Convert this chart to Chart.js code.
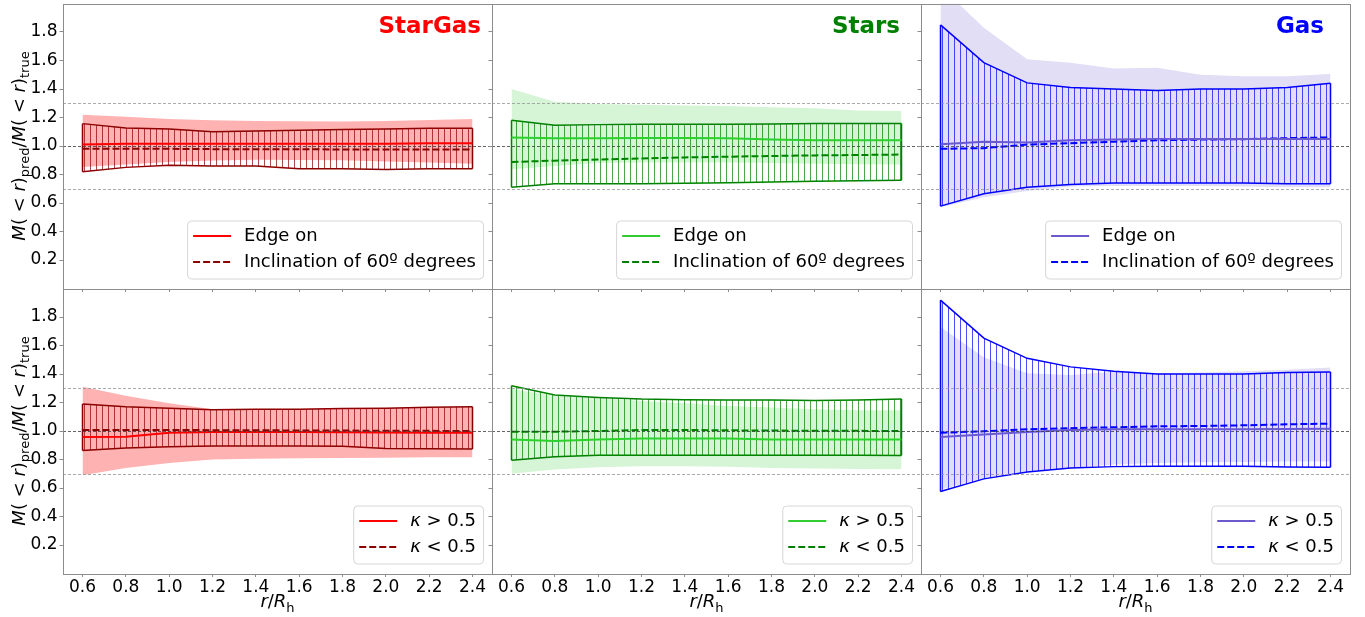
<!DOCTYPE html>
<html>
<head>
<meta charset="utf-8">
<script src="https://cdn.jsdelivr.net/npm/chart.js@4.4.1/dist/chart.umd.min.js"></script>
<style>
  html, body { margin: 0; padding: 0; background: #fff; }
  #wrap { position: relative; width: 1365px; height: 617px; overflow: hidden; }
  #wrap canvas { position: absolute; left: 0; top: 0; }
</style>
</head>
<body>
<div id="wrap"></div>
<script>
// r / R_h sample points and axis ticks
const radius = [0.6, 0.8, 1.0, 1.2, 1.4, 1.6, 1.8, 2.0, 2.2, 2.4];
const yTicks = [0.2, 0.4, 0.6, 0.8, 1.0, 1.2, 1.4, 1.6, 1.8];
const refLevels = [0.7, 1.0, 1.3];

// --- top row: edge on (solid + shade) vs inclination 60º (dashed + hatch)
const sgEdgeMed = [1.010, 1.015, 1.015, 1.015, 1.015, 1.015, 1.015, 1.015, 1.020, 1.020];
const sgEdgeLo  = [0.852, 0.870, 0.888, 0.898, 0.904, 0.902, 0.900, 0.892, 0.885, 0.876];
const sgEdgeHi  = [1.220, 1.205, 1.190, 1.180, 1.176, 1.173, 1.172, 1.175, 1.182, 1.190];
const sgIncMed  = [0.980, 0.980, 0.980, 0.978, 0.977, 0.977, 0.976, 0.976, 0.976, 0.975];
const sgIncLo   = [0.820, 0.850, 0.865, 0.860, 0.860, 0.840, 0.840, 0.835, 0.840, 0.840];
const sgIncHi   = [1.157, 1.127, 1.120, 1.100, 1.105, 1.110, 1.115, 1.120, 1.125, 1.125];

const stEdgeMed = [1.060, 1.055, 1.055, 1.057, 1.057, 1.055, 1.045, 1.040, 1.040, 1.040];
const stEdgeLo  = [0.836, 0.860, 0.880, 0.885, 0.885, 0.885, 0.880, 0.875, 0.872, 0.870];
const stEdgeHi  = [1.400, 1.310, 1.295, 1.290, 1.285, 1.280, 1.272, 1.265, 1.250, 1.245];
const stIncMed  = [0.888, 0.897, 0.905, 0.913, 0.920, 0.925, 0.930, 0.934, 0.937, 0.940];
const stIncLo   = [0.710, 0.735, 0.735, 0.735, 0.738, 0.742, 0.748, 0.752, 0.756, 0.760];
const stIncHi   = [1.180, 1.145, 1.150, 1.152, 1.152, 1.152, 1.155, 1.158, 1.158, 1.158];

const gaEdgeMed = [1.012, 1.030, 1.025, 1.040, 1.045, 1.050, 1.050, 1.050, 1.050, 1.050];
const gaEdgeLo  = [0.570, 0.640, 0.685, 0.715, 0.720, 0.720, 0.720, 0.715, 0.710, 0.710];
const gaEdgeHi  = [2.120, 1.830, 1.609, 1.585, 1.544, 1.550, 1.500, 1.490, 1.490, 1.505];
const gaIncMed  = [0.980, 0.985, 1.010, 1.020, 1.030, 1.040, 1.045, 1.048, 1.055, 1.060];
const gaIncLo   = [0.578, 0.665, 0.710, 0.730, 0.740, 0.740, 0.740, 0.740, 0.735, 0.735];
const gaIncHi   = [1.850, 1.585, 1.443, 1.410, 1.400, 1.390, 1.400, 1.400, 1.410, 1.440];

// --- bottom row: kappa > 0.5 (solid + shade) vs kappa < 0.5 (dashed + hatch)
const sgRotMed  = [0.958, 0.960, 0.988, 0.993, 0.993, 0.993, 0.992, 0.990, 0.988, 0.988];
const sgRotLo   = [0.690, 0.740, 0.776, 0.800, 0.805, 0.808, 0.810, 0.812, 0.815, 0.816];
const sgRotHi   = [1.310, 1.247, 1.195, 1.153, 1.150, 1.155, 1.158, 1.160, 1.165, 1.170];
const sgDispMed = [1.007, 1.007, 1.007, 1.006, 1.005, 1.004, 1.003, 1.002, 1.001, 1.000];
const sgDispLo  = [0.864, 0.880, 0.890, 0.895, 0.895, 0.895, 0.893, 0.878, 0.875, 0.873];
const sgDispHi  = [1.190, 1.170, 1.160, 1.150, 1.153, 1.153, 1.158, 1.160, 1.167, 1.170];

const stRotMed  = [0.940, 0.930, 0.940, 0.948, 0.948, 0.948, 0.940, 0.940, 0.940, 0.940];
const stRotLo   = [0.700, 0.730, 0.745, 0.753, 0.753, 0.750, 0.740, 0.736, 0.734, 0.732];
const stRotHi   = [1.295, 1.247, 1.235, 1.210, 1.195, 1.176, 1.165, 1.153, 1.146, 1.146];
const stDispMed = [0.995, 0.995, 1.000, 1.007, 1.007, 1.005, 1.003, 1.002, 1.001, 1.000];
const stDispLo  = [0.795, 0.820, 0.830, 0.830, 0.830, 0.830, 0.830, 0.830, 0.830, 0.828];
const stDispHi  = [1.318, 1.252, 1.235, 1.224, 1.220, 1.217, 1.217, 1.214, 1.217, 1.224];

const gaRotMed  = [0.958, 0.976, 0.993, 1.007, 1.012, 1.012, 1.012, 1.012, 1.014, 1.016];
const gaRotLo   = [0.588, 0.670, 0.718, 0.741, 0.765, 0.776, 0.780, 0.782, 0.786, 0.786];
const gaRotHi   = [1.730, 1.518, 1.405, 1.393, 1.415, 1.405, 1.410, 1.420, 1.430, 1.445];
const gaDispMed = [0.988, 0.998, 1.012, 1.020, 1.026, 1.033, 1.035, 1.040, 1.047, 1.052];
const gaDispLo  = [0.576, 0.664, 0.713, 0.741, 0.750, 0.753, 0.753, 0.753, 0.748, 0.746];
const gaDispHi  = [1.918, 1.652, 1.510, 1.450, 1.420, 1.400, 1.400, 1.400, 1.410, 1.414];

const topLabels = ['Edge on', 'Inclination of 60º degrees'];
const botLabels = ['κ > 0.5', 'κ < 0.5'];

const FAM = '"DejaVu Sans", sans-serif';
const LEG = 18;
const W = 1365, H = 617;
const colLeft = [63, 492, 921];
const rowTop = [3.5, 288.5];
const PW = 429, PH = 285;

const styles = [
  { title: 'StarGas', tColor: '#ff0000', tRight: 11, main: '#ff0000', alt: '#8b0000', shade: 'rgba(255,0,0,0.3)' },
  { title: 'Stars',   tColor: '#008000', tRight: 21, main: '#32cd32', alt: '#008000', shade: 'rgba(50,205,50,0.2)' },
  { title: 'Gas',     tColor: '#0000ff', tRight: 26, main: '#6a5acd', alt: '#0000ff', shade: 'rgba(106,90,205,0.2)' }
];

const panels = [
  { row: 0, col: 0, med: sgEdgeMed, lo: sgEdgeLo, hi: sgEdgeHi, med2: sgIncMed, lo2: sgIncLo, hi2: sgIncHi, labels: topLabels },
  { row: 0, col: 1, med: stEdgeMed, lo: stEdgeLo, hi: stEdgeHi, med2: stIncMed, lo2: stIncLo, hi2: stIncHi, labels: topLabels },
  { row: 0, col: 2, med: gaEdgeMed, lo: gaEdgeLo, hi: gaEdgeHi, med2: gaIncMed, lo2: gaIncLo, hi2: gaIncHi, labels: topLabels },
  { row: 1, col: 0, med: sgRotMed, lo: sgRotLo, hi: sgRotHi, med2: sgDispMed, lo2: sgDispLo, hi2: sgDispHi, labels: botLabels },
  { row: 1, col: 1, med: stRotMed, lo: stRotLo, hi: stRotHi, med2: stDispMed, lo2: stDispLo, hi2: stDispHi, labels: botLabels },
  { row: 1, col: 2, med: gaRotMed, lo: gaRotLo, hi: gaRotHi, med2: gaDispMed, lo2: gaDispLo, hi2: gaDispHi, labels: botLabels }
];

const pts = arr => arr.map((v, i) => ({ x: radius[i], y: v }));

function hatchPattern(ctx, color) {
  const tile = document.createElement('canvas');
  tile.width = 6; tile.height = 6;
  const g = tile.getContext('2d');
  g.strokeStyle = color;
  g.globalAlpha = 0.7;
  g.lineWidth = 1;
  g.beginPath(); g.moveTo(0.5, 0); g.lineTo(0.5, 6); g.stroke();
  return ctx.createPattern(tile, 'repeat');
}

// draw a run of text pieces, italic / subscript where asked
function drawPieces(ctx, pieces, x, y, size, align) {
  const fontOf = p => (p.it ? 'italic ' : '') + Math.round(p.sub ? size * 0.7 : size) + 'px ' + FAM;
  let total = 0;
  pieces.forEach(p => { ctx.font = fontOf(p); p.w = ctx.measureText(p.t).width; total += p.w; });
  let cx = align === 'center' ? x - total / 2 : x;
  ctx.textAlign = 'left';
  pieces.forEach(p => {
    ctx.font = fontOf(p);
    ctx.fillText(p.t, cx, y + (p.sub ? size * 0.25 : 0));
    cx += p.w;
  });
  return total;
}

function labelPieces(label) {
  if (label.startsWith('κ')) return [{ t: 'κ', it: true }, { t: label.slice(1) }];
  return [{ t: label }];
}

const yTitle = [
  { t: 'M', it: true }, { t: '( < ' }, { t: 'r', it: true }, { t: ')' }, { t: 'pred', sub: true },
  { t: '/' }, { t: 'M', it: true }, { t: '( < ' }, { t: 'r', it: true }, { t: ')' }, { t: 'true', sub: true }
];
const xTitle = [{ t: 'r', it: true }, { t: '/' }, { t: 'R', it: true }, { t: 'h', sub: true }];

function decorPlugin(p, st) {
  return {
    id: 'decor',
    afterDatasetsDraw(chart) {
      const { ctx, chartArea: a, scales } = chart;
      ctx.save();
      ctx.lineWidth = 1;
      ctx.setLineDash([3, 2]);
      refLevels.forEach(v => {
        const y = Math.round(scales.y.getPixelForValue(v)) + 0.5;
        ctx.strokeStyle = v === 1 ? 'rgba(60,60,60,0.8)' : 'rgba(150,150,150,0.8)';
        ctx.beginPath(); ctx.moveTo(a.left, y); ctx.lineTo(a.right, y); ctx.stroke();
      });
      ctx.restore();
    },
    afterDraw(chart) {
      const { ctx, chartArea: a } = chart;
      ctx.save();
      // frame
      ctx.strokeStyle = '#8c8c8c';
      ctx.lineWidth = 1;
      ctx.strokeRect(Math.round(a.left) + 0.5, Math.round(a.top) + 0.5, Math.round(a.right - a.left), Math.round(a.bottom - a.top));
      // panel title
      if (p.row === 0) {
        ctx.fillStyle = st.tColor;
        ctx.font = 'bold 23px ' + FAM;
        ctx.textAlign = 'right';
        ctx.textBaseline = 'alphabetic';
        ctx.fillText(st.title, a.right - st.tRight, a.top + 29);
      }
      // legend
      ctx.textBaseline = 'middle';
      let tw = 0;
      p.labels.forEach(l => {
        let w = 0;
        labelPieces(l).forEach(q => { ctx.font = (q.it ? 'italic ' : '') + LEG + 'px ' + FAM; w += ctx.measureText(q.t).width; });
        tw = Math.max(tw, w);
      });
      const bw = 57 + tw + 7, bh = 58;
      const x1 = a.right - 9, y1 = a.bottom - 10;
      const x0 = x1 - bw, y0 = y1 - bh;
      ctx.beginPath();
      ctx.roundRect(x0 + 0.5, y0 + 0.5, bw, bh, 4);
      ctx.fillStyle = 'rgba(255,255,255,0.8)';
      ctx.fill();
      ctx.strokeStyle = '#d6d6d6';
      ctx.stroke();
      p.labels.forEach((l, i) => {
        const cy = y0 + 15.5 + i * 26;
        ctx.strokeStyle = i === 0 ? st.main : st.alt;
        ctx.lineWidth = 2;
        ctx.setLineDash(i === 0 ? [] : [7, 3]);
        ctx.beginPath(); ctx.moveTo(x0 + 6, cy); ctx.lineTo(x0 + 44, cy); ctx.stroke();
        ctx.setLineDash([]);
        ctx.fillStyle = '#000';
        drawPieces(ctx, labelPieces(l), x0 + 57, cy, LEG, 'left');
      });
      // axis titles
      ctx.fillStyle = '#000';
      ctx.textBaseline = 'alphabetic';
      if (p.row === 1) {
        drawPieces(ctx, xTitle, (a.left + a.right) / 2, 607, 18, 'center');
      }
      if (p.col === 0) {
        ctx.save();
        ctx.translate(24.5, (a.top + a.bottom) / 2);
        ctx.rotate(-Math.PI / 2);
        drawPieces(ctx, yTitle, 0, 0, 18, 'center');
        ctx.restore();
      }
      ctx.restore();
    }
  };
}

const wrap = document.getElementById('wrap');
panels.forEach(p => {
  const st = styles[p.col];
  const cv = document.createElement('canvas');
  cv.width = W; cv.height = H;
  cv.style.width = W + 'px'; cv.style.height = H + 'px';
  wrap.appendChild(cv);
  const ctx = cv.getContext('2d');

  const left = colLeft[p.col], top = rowTop[p.row];
  const YW = 40, XH = 30;
  const pad = {
    left: left - YW,
    right: W - (left + PW),
    top: top,
    bottom: H - (top + PH) - XH
  };
  const n = radius.length - 1;
  const datasets = [
    { data: pts(p.med), borderColor: st.main, borderWidth: 2, fill: false, order: 1 },
    { data: pts(p.med2), borderColor: st.alt, borderWidth: 2, borderDash: [7, 3], fill: false, order: 2 },
    { data: pts(p.hi2), borderColor: st.alt, borderWidth: 1.5, fill: { target: 3 }, backgroundColor: hatchPattern(ctx, st.alt), order: 4 },
    { data: pts(p.lo2), borderColor: st.alt, borderWidth: 1.5, fill: false, order: 4 },
    { data: [{ x: radius[0], y: p.lo2[0] }, { x: radius[0], y: p.hi2[0] }], borderColor: st.alt, borderWidth: 1.5, fill: false, order: 3 },
    { data: [{ x: radius[n], y: p.lo2[n] }, { x: radius[n], y: p.hi2[n] }], borderColor: st.alt, borderWidth: 1.5, fill: false, order: 3 },
    { data: pts(p.hi), borderWidth: 0, borderColor: 'rgba(0,0,0,0)', fill: { target: 7 }, backgroundColor: st.shade, order: 6 },
    { data: pts(p.lo), borderWidth: 0, borderColor: 'rgba(0,0,0,0)', fill: false, order: 6 }
  ];

  new Chart(cv, {
    type: 'line',
    data: { datasets },
    options: {
      responsive: false,
      animation: false,
      events: [],
      layout: { padding: pad },
      elements: { point: { radius: 0 }, line: { tension: 0 } },
      plugins: { legend: { display: false }, tooltip: { enabled: false } },
      scales: {
        x: {
          type: 'linear', min: 0.51, max: 2.49,
          afterBuildTicks: s => { s.ticks = radius.map(v => ({ value: v })); },
          afterFit: s => { s.height = XH; s.paddingLeft = 0; s.paddingRight = 0; },
          ticks: {
            autoSkip: false, maxRotation: 0, padding: 0,
            color: '#000', font: { family: FAM, size: 17 },
            callback: v => p.row === 1 ? Number(v).toFixed(1) : ''
          },
          grid: { drawOnChartArea: false, drawTicks: true, tickLength: 3.5, color: '#8c8c8c' },
          border: { display: false }
        },
        y: {
          type: 'linear', min: 0, max: 2,
          afterBuildTicks: s => { s.ticks = yTicks.map(v => ({ value: v })); },
          afterFit: s => { s.width = YW; s.paddingTop = 0; s.paddingBottom = 0; },
          ticks: {
            autoSkip: false, padding: 2,
            color: '#000', font: { family: FAM, size: 17 },
            callback: v => p.col === 0 ? Number(v).toFixed(1) : ''
          },
          grid: { drawOnChartArea: false, drawTicks: true, tickLength: 3.5, color: '#8c8c8c' },
          border: { display: false }
        }
      }
    },
    plugins: [decorPlugin(p, st)]
  });
});
</script>
</body>
</html>
